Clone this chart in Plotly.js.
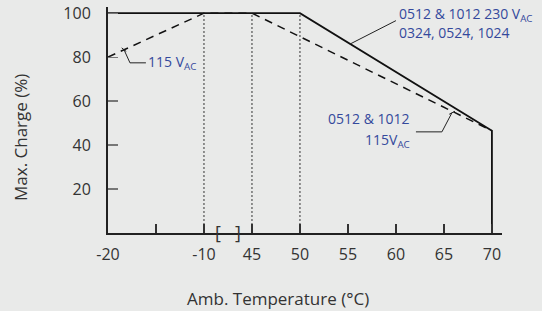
<!DOCTYPE html>
<html>
<head>
<meta charset="utf-8">
<script src="https://cdn.plot.ly/plotly-3.0.1.min.js"></script>
<style>html,body{margin:0;padding:0;background:#e9eae9;}#chart{width:542px;height:311px;}</style>
</head>
<body>
<div id="chart"></div>
<script>
// Tick temperatures (axis is broken between -10 and 45)
var tickTemps = [-20, -15, -10, 45, 50, 55, 60, 65, 70];
var tickLabels = ['-20', '', '-10', '45', '50', '55', '60', '65', '70'];
var yTicks = [20, 40, 60, 80, 100];

// Series: 0512 & 1012 230 VAC / 0324, 0524, 1024 (solid)
var temp230 = [-20, 50, 70, 70];
var charge230 = [100, 100, 46.5, 0];

// Series: 115 VAC (dashed)
var temp115 = [-20, -10, 45, 70];
var charge115 = [80, 100, 100, 46.5];

// Dotted reference lines
var refTemps = [-10, 45, 50];
var refTop = 100;

// map temperature to broken-axis position
function pos(t) { return t <= -10 ? (t + 20) / 5 : 3 + (t - 45) / 5; }

var traces = [];
refTemps.forEach(function (t) {
  traces.push({x: [pos(t), pos(t)], y: [0, refTop], mode: 'lines',
    line: {color: '#333', width: 1, dash: '2px,2px'}, hoverinfo: 'skip', showlegend: false});
});
traces.push({x: temp115.map(pos), y: charge115, mode: 'lines',
  line: {color: '#111', width: 1.5, dash: '8px,6px'}, showlegend: false});
traces.push({x: temp230.map(pos), y: charge230, mode: 'lines',
  line: {color: '#111', width: 1.8}, showlegend: false});

var blue = '#34499c';
var F = 'Open Sans, sans-serif';
var layout = {
  width: 542, height: 311,
  paper_bgcolor: '#e9eae9', plot_bgcolor: '#e9eae9',
  margin: {l: 108, r: 40, t: 7, b: 78},
  showlegend: false,
  xaxis: {
    range: [0, 8.21], tickmode: 'array', tickvals: tickTemps.map(pos), ticktext: tickLabels,
    ticks: 'inside', ticklen: 9, tickwidth: 1.2, tickcolor: '#333',
    showline: true, linecolor: '#222', linewidth: 2, showgrid: false, zeroline: false,
    tickfont: {family: F, size: 16, color: '#333'}, ticklabelstandoff: 6
  },
  yaxis: {
    range: [0, 102.8], tickmode: 'array', tickvals: yTicks,
    ticks: 'inside', ticklen: 10, tickwidth: 1.2, tickcolor: '#777',
    showline: true, linecolor: '#222', linewidth: 2, showgrid: false, zeroline: false,
    tickfont: {family: F, size: 16, color: '#333'}, ticklabelstandoff: 12
  },
  shapes: [
    // leader 115 VAC (left)
    {type: 'path', xref: 'x', yref: 'y', path: 'M 0.333,83.4 L 0.458,77.4 L 0.79,77.4', line: {color: '#222', width: 1}},
    {type: 'line', xref: 'x', yref: 'y', x0: 0.285, x1: 0.38, y0: 84.2, y1: 82.6, line: {color: '#222', width: 1}},
    // leader 230 VAC
    {type: 'line', xref: 'x', yref: 'y', x0: 5.04, y0: 85.9, x1: 6.0, y1: 96.6, line: {color: '#222', width: 1}},
    // leader 115 VAC (right)
    {type: 'path', xref: 'x', yref: 'y', path: 'M 6.417,46.0 L 6.958,46.0 L 7.167,54.7', line: {color: '#222', width: 1}},
    {type: 'line', xref: 'x', yref: 'y', x0: 7.11, x1: 7.23, y0: 54.0, y1: 55.4, line: {color: '#222', width: 1}}
  ],
  annotations: [
    {xref: 'x', yref: 'y', x: 0.80, y: 77.4, xanchor: 'left', yanchor: 'middle', showarrow: false,
      text: '115 V<sub>AC</sub>', font: {family: F, size: 14, color: blue}},
    {xref: 'x', yref: 'y', x: 6.02, y: 99.4, xanchor: 'left', yanchor: 'middle', showarrow: false,
      text: '0512 &amp; 1012 230 V<sub>AC</sub>', font: {family: F, size: 14, color: blue}},
    {xref: 'x', yref: 'y', x: 6.02, y: 91.1, xanchor: 'left', yanchor: 'middle', showarrow: false,
      text: '0324, 0524, 1024', font: {family: F, size: 14, color: blue}},
    {xref: 'x', yref: 'y', x: 6.33, y: 51.9, xanchor: 'right', yanchor: 'middle', showarrow: false,
      text: '0512 &amp; 1012', font: {family: F, size: 14, color: blue}},
    {xref: 'x', yref: 'y', x: 6.33, y: 42.0, xanchor: 'right', yanchor: 'middle', showarrow: false,
      text: '115V<sub>AC</sub>', font: {family: F, size: 14, color: blue}},
    // axis break brackets
    {xref: 'x', yref: 'paper', x: 2.29, y: 1 / 226, xanchor: 'center', yanchor: 'middle', showarrow: false,
      text: '[', font: {family: F, size: 18, color: '#333'}},
    {xref: 'x', yref: 'paper', x: 2.71, y: 1 / 226, xanchor: 'center', yanchor: 'middle', showarrow: false,
      text: ']', font: {family: F, size: 18, color: '#333'}},
    // axis titles
    {xref: 'paper', yref: 'paper', x: (277.5 - 108) / 394, y: -65 / 226, xanchor: 'center', yanchor: 'middle', showarrow: false,
      text: 'Amb. Temperature (°C)', font: {family: F, size: 17, color: '#333'}},
    {xref: 'paper', yref: 'paper', x: -88 / 394, y: (233 - 138) / 226, xanchor: 'center', yanchor: 'middle', showarrow: false, textangle: -90,
      text: 'Max. Charge (%)', font: {family: F, size: 17, color: '#333'}}
  ]
};
Plotly.newPlot('chart', traces, layout, {staticPlot: true, displayModeBar: false});
</script>
</body>
</html>
